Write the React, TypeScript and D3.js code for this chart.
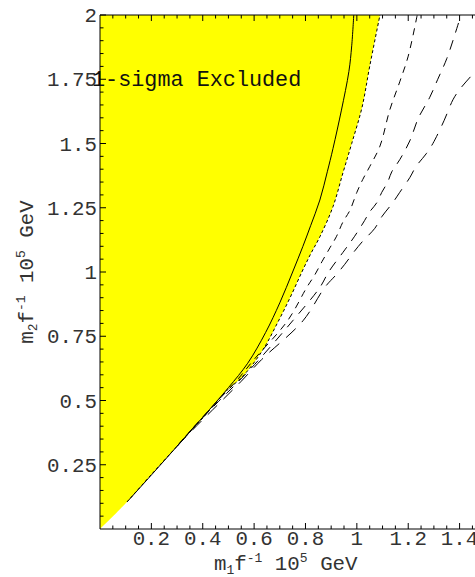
import React from "react";
import * as d3 from "d3";

// Exclusion boundary (edge of the shaded region), m1 vs m2 in units of f * 10^5 GeV
const boundaryM1 = [0, 0.105, 0.2, 0.3, 0.4, 0.5, 0.53, 0.57, 0.636, 0.69, 0.74, 0.786, 0.82, 0.856, 0.907, 0.946, 0.98, 1.02, 1.05, 1.09];
const boundaryM2 = [0, 0.105, 0.212, 0.322, 0.432, 0.545, 0.57, 0.61, 0.7, 0.8, 0.9, 1.0, 1.07, 1.137, 1.254, 1.386, 1.5, 1.64, 1.8, 2.0];

// Solid contour
const solidM1 = [0.105, 0.2, 0.3, 0.4, 0.5, 0.575, 0.645, 0.7, 0.75, 0.79, 0.82, 0.856, 0.885, 0.907, 0.94, 0.969, 0.98, 0.988];
const solidM2 = [0.105, 0.21, 0.322, 0.435, 0.55, 0.645, 0.765, 0.88, 1.0, 1.1, 1.18, 1.28, 1.39, 1.48, 1.63, 1.78, 1.88, 2.0];

// Dashed contours
const dashAM1 = [0.3, 0.35, 0.45, 0.53, 0.6, 0.73, 0.805, 0.837, 0.864, 0.895, 0.92, 0.946, 0.973, 1.0, 1.023, 1.05, 1.09, 1.128, 1.167, 1.2, 1.235];
const dashAM2 = [0.322, 0.38, 0.49, 0.575, 0.66, 0.81, 0.94, 0.99, 1.04, 1.094, 1.137, 1.195, 1.24, 1.31, 1.36, 1.41, 1.49, 1.63, 1.74, 1.84, 2.0];

const dashBM1 = [0.3, 0.35, 0.46, 0.54, 0.62, 0.75, 0.856, 0.89, 0.953, 0.99, 1.03, 1.05, 1.078, 1.097, 1.12, 1.136, 1.167, 1.206, 1.24, 1.284, 1.315, 1.35, 1.393, 1.405];
const dashBM2 = [0.322, 0.38, 0.495, 0.575, 0.66, 0.81, 0.94, 1.0, 1.086, 1.137, 1.2, 1.234, 1.27, 1.31, 1.35, 1.39, 1.437, 1.51, 1.6, 1.68, 1.75, 1.83, 1.96, 2.0];

const dashCM1 = [0.3, 0.36, 0.47, 0.55, 0.63, 0.79, 0.875, 0.92, 0.953, 0.99, 1.023, 1.07, 1.097, 1.14, 1.167, 1.206, 1.23, 1.27, 1.296, 1.34, 1.374, 1.4, 1.46, 1.5];
const dashCM2 = [0.322, 0.385, 0.495, 0.575, 0.66, 0.81, 0.94, 0.99, 1.03, 1.08, 1.12, 1.17, 1.215, 1.27, 1.31, 1.367, 1.41, 1.46, 1.5, 1.59, 1.67, 1.71, 1.78, 1.83];

// Tick labels
const xTickValues = [0.2, 0.4, 0.6, 0.8, 1, 1.2, 1.4];
const xTickLabels = ["0.2", "0.4", "0.6", "0.8", "1", "1.2", "1.4"];
const yTickValues = [0.25, 0.5, 0.75, 1, 1.25, 1.5, 1.75, 2];
const yTickLabels = ["0.25", "0.5", "0.75", "1", "1.25", "1.5", "1.75", "2"];

const regionLabel = "1-sigma Excluded";

const W = 475;
const H = 577;
const left = 100;
const top = 15;
const bottom = 529;
const right = 475;

const font = "'Liberation Mono', 'Courier New', monospace";

const pts = (xs: number[], ys: number[]) => xs.map((x, i) => [x, ys[i]] as [number, number]);

export default function App() {
  const x = d3.scaleLinear().domain([0, 1.46]).range([left, right]);
  const y = d3.scaleLinear().domain([0, 2]).range([bottom, top]);

  const line = d3
    .line<[number, number]>()
    .x((d) => x(d[0]))
    .y((d) => y(d[1]))
    .curve(d3.curveCatmullRom.alpha(0.5));

  const boundary = pts(boundaryM1, boundaryM2);
  const fillPath = line(boundary) + `L${x(0)},${y(2)}Z`;

  const minorX = d3.range(0, 1.46, 0.05);
  const minorY = d3.range(0.05, 2.0001, 0.05);
  const isMajorX = (v: number) => Math.abs(v / 0.2 - Math.round(v / 0.2)) < 1e-6;
  const isMajorY = (v: number) => Math.abs(v / 0.25 - Math.round(v / 0.25)) < 1e-6;

  const fs = 20.8;

  return (
    <svg
      width={W}
      height={H}
      style={{ position: "absolute", left: 0, top: 0, background: "#fff" }}
    >
      <defs>
        <clipPath id="plotArea">
          <rect x={left} y={top} width={right - left} height={bottom - top} />
        </clipPath>
      </defs>

      <g clipPath="url(#plotArea)">
        <path d={fillPath} fill="#ffff00" stroke="none" />
        <path
          d={line(boundary.slice(1)) || ""}
          fill="none"
          stroke="#000"
          strokeWidth={1}
          strokeDasharray="3,2.5"
        />
        <path d={line(pts(solidM1, solidM2)) || ""} fill="none" stroke="#000" strokeWidth={1} />
        <path
          d={line(pts(dashAM1, dashAM2)) || ""}
          fill="none"
          stroke="#000"
          strokeWidth={1}
          strokeDasharray="7,6"
        />
        <path
          d={line(pts(dashBM1, dashBM2)) || ""}
          fill="none"
          stroke="#000"
          strokeWidth={1}
          strokeDasharray="10,8"
        />
        <path
          d={line(pts(dashCM1, dashCM2)) || ""}
          fill="none"
          stroke="#000"
          strokeWidth={1}
          strokeDasharray="13,9"
        />
      </g>

      <text x={92} y={y(1.75) + 7} fontFamily={font} fontSize={21.8} fill="#111">
        {regionLabel}
      </text>

      {/* frame */}
      <line x1={left} x2={left} y1={top} y2={bottom} stroke="#000" strokeWidth={1} />
      <line x1={left} x2={right} y1={bottom} y2={bottom} stroke="#000" strokeWidth={1} />
      <line x1={left} x2={right} y1={top} y2={top} stroke="#000" strokeWidth={1} />

      {/* x ticks, bottom and top, pointing inward */}
      {minorX.filter((v) => v > 0.01).map((v, i) => {
        const len = isMajorX(v) ? 6 : 3.5;
        return (
          <g key={`xt${i}`}>
            <line x1={x(v)} x2={x(v)} y1={bottom} y2={bottom - len} stroke="#000" />
            <line x1={x(v)} x2={x(v)} y1={top} y2={top + len} stroke="#000" />
          </g>
        );
      })}
      {/* y ticks */}
      {minorY.map((v, i) => {
        const len = isMajorY(v) ? 6 : 3.5;
        return <line key={`yt${i}`} x1={left} x2={left + len} y1={y(v)} y2={y(v)} stroke="#000" />;
      })}

      {xTickValues.map((v, i) => (
        <text
          key={`xl${i}`}
          x={x(v)}
          y={bottom + 16}
          textAnchor="middle"
          fontFamily={font}
          fontSize={fs}
          fill="#333"
        >
          {xTickLabels[i]}
        </text>
      ))}
      {yTickValues.map((v, i) => (
        <text
          key={`yl${i}`}
          x={left - 3}
          y={y(v) + 7}
          textAnchor="end"
          fontFamily={font}
          fontSize={fs}
          fill="#333"
        >
          {yTickLabels[i]}
        </text>
      ))}

      {/* axis titles */}
      <text x={214} y={570} fontFamily={font} fontSize={fs} fill="#333">
        m<tspan fontSize={13} dy={4}>1</tspan>
        <tspan dy={-4}>f</tspan>
        <tspan fontSize={13} dy={-8}>-1</tspan>
        <tspan dy={8}> 10</tspan>
        <tspan fontSize={13} dy={-8}>5</tspan>
        <tspan dy={8}> GeV</tspan>
      </text>
      <text
        transform={`translate(33, ${(top + bottom) / 2}) rotate(-90)`}
        textAnchor="middle"
        fontFamily={font}
        fontSize={fs}
        fill="#333"
      >
        m<tspan fontSize={13} dy={4}>2</tspan>
        <tspan dy={-4}>f</tspan>
        <tspan fontSize={13} dy={-8}>-1</tspan>
        <tspan dy={8}> 10</tspan>
        <tspan fontSize={13} dy={-8}>5</tspan>
        <tspan dy={8}> GeV</tspan>
      </text>
    </svg>
  );
}
